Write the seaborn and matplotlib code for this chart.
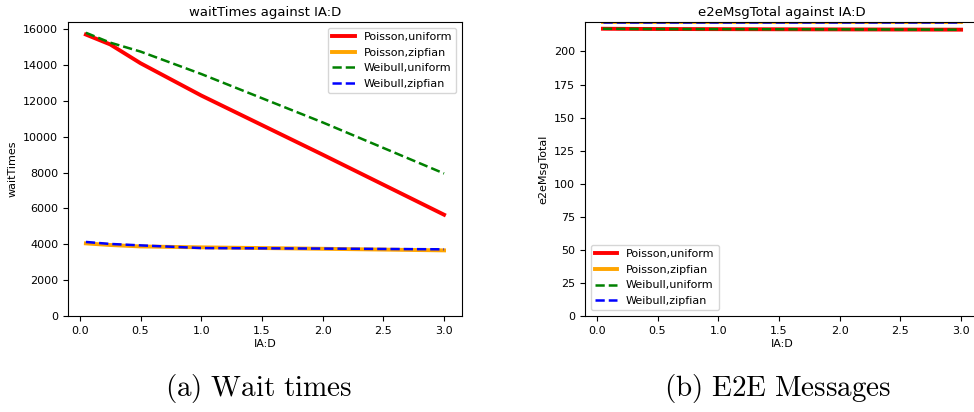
import matplotlib
matplotlib.use("Agg")
import matplotlib.pyplot as plt
import seaborn as sns
import pandas as pd

ia_d = [0.05, 0.25, 0.5, 1.0, 2.0, 3.0]
series_names = ["Poisson,uniform", "Poisson,zipfian", "Weibull,uniform", "Weibull,zipfian"]

wait_poisson_uniform = [15700, 15150, 14100, 12300, 9000, 5650]
wait_poisson_zipfian = [4050, 3960, 3880, 3830, 3750, 3660]
wait_weibull_uniform = [15800, 15250, 14750, 13500, 10800, 7950]
wait_weibull_zipfian = [4130, 4020, 3940, 3790, 3760, 3720]

msg_poisson_uniform = [217.2, 217.1, 217.0, 216.9, 216.7, 216.5]
msg_poisson_zipfian = [222.0, 222.0, 222.0, 222.0, 222.0, 222.0]
msg_weibull_uniform = [217.2, 217.1, 217.0, 216.9, 216.7, 216.5]
msg_weibull_zipfian = [222.0, 222.0, 222.0, 222.0, 222.0, 222.0]

styles = {
    "Poisson,uniform": dict(color="red", linestyle="-", linewidth=2.8),
    "Poisson,zipfian": dict(color="orange", linestyle="-", linewidth=2.8),
    "Weibull,uniform": dict(color="green", linestyle="--", linewidth=1.8),
    "Weibull,zipfian": dict(color="blue", linestyle="--", linewidth=1.8),
}

wait = dict(zip(series_names, [wait_poisson_uniform, wait_poisson_zipfian,
                               wait_weibull_uniform, wait_weibull_zipfian]))
msg = dict(zip(series_names, [msg_poisson_uniform, msg_poisson_zipfian,
                              msg_weibull_uniform, msg_weibull_zipfian]))

plt.rcParams["mathtext.fontset"] = "cm"
fig = plt.figure(figsize=(9.74, 4.12), dpi=100)
ax1 = fig.add_axes([0.0698, 0.233, 0.4045, 0.7136])
ax2 = fig.add_axes([585 / 974, 0.233, 394 / 974, 0.7136])

for ax, data, ylabel, title in [(ax1, wait, "waitTimes", "waitTimes against IA:D"),
                                (ax2, msg, "e2eMsgTotal", "e2eMsgTotal against IA:D")]:
    for name in series_names:
        df = pd.DataFrame({"x": ia_d, "y": data[name]})
        sns.lineplot(data=df, x="x", y="y", ax=ax, label=name, **styles[name])
    ax.set_xlabel("IA:D", fontsize=8, labelpad=2)
    ax.set_ylabel(ylabel, fontsize=8)
    ax.set_title(title, fontsize=9.5, pad=4)
    ax.tick_params(labelsize=8)

ax1.set_ylim(0, 16400)
ax2.set_ylim(0, 222.3)

ax1.legend(loc="upper right", fontsize=8)
ax2.legend(loc="lower left", fontsize=8)

fig.text(0.2655, 0.057, r"$\mathrm{(a)\ Wait\ times}$", ha="center", va="center", fontsize=21)
fig.text(0.798, 0.057, r"$\mathrm{(b)\ E2E\ Messages}$", ha="center", va="center", fontsize=21)

fig.savefig("out.png", dpi=100)
